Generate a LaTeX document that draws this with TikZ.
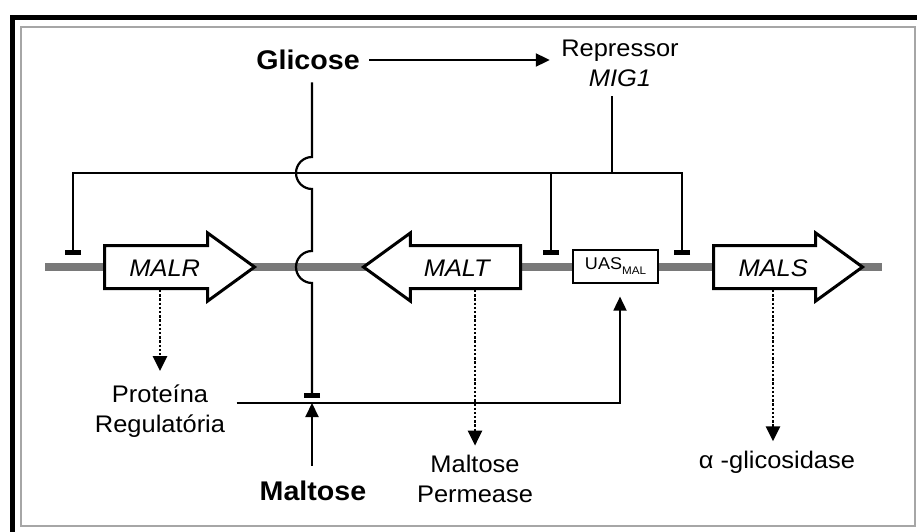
\documentclass[tikz,border=0pt]{standalone}
\usepackage{fontspec}
\setmainfont{Liberation Sans}[FakeStretch=1.06]
\usepackage{tikz}
\usetikzlibrary{positioning, calc, arrows.meta, shapes.arrows}

\begin{document}
\begin{tikzpicture}[
    x=1pt, y=-1pt,
    gene/.style={single arrow, draw, fill=white, line width=3pt,
                 single arrow tip angle=72, single arrow head extend=12.5pt,
                 single arrow head indent=0pt, minimum width=0pt,
                 text height=18pt, text depth=0pt, inner ysep=11pt, inner xsep=4pt,
                 font=\fontsize{24}{30}\selectfont\itshape},
    prod/.style={align=center, font=\fontsize{24}{30}\selectfont},
    sugar/.style={font=\fontsize{27}{32}\selectfont\bfseries},
    expr/.style={-{Triangle[length=15pt,width=14pt]}, line width=2.6pt,
                 dash pattern=on 2.4pt off 1.8pt},
    act/.style={-{Triangle[length=14pt,width=13pt]}, line width=2.1pt},
    inh/.style={-{Bar[width=16pt,line width=5pt]}, line width=2.2pt},
    chrom/.style={line width=7.5pt, gray!95!black},
]
\useasboundingbox (0,0) rectangle (917,532);
\fill[white] (0,0) rectangle (917,532);

% Frame
\draw[line width=5pt] (12.5,532) -- (12.5,17.5) -- (917,17.5);
\draw[gray!70, line width=1.5pt] (21,27) rectangle (915,526);

% Chromosome and genes
\coordinate (chrL) at (45,267);
\coordinate (chrR) at (882,267);
\draw[chrom] (chrL) -- (chrR);

\node[gene, anchor=tail, minimum height=150pt] (malr) at (103,267) {MALR};
\node[gene, anchor=tail, minimum height=157pt, shape border rotate=180] (malt) at (522,267) {MALT};
\node[gene, anchor=tail, minimum height=149pt] (mals) at (712,267) {MALS};
\node[draw, fill=white, line width=1.2pt, minimum width=85pt, minimum height=33pt,
      inner sep=0pt] (uas) at (615.5,266.5)
      {\fontsize{17}{17}\selectfont UAS\raisebox{-5pt}{\fontsize{11}{11}\selectfont MAL}};

% Signals and products
\node[sugar] (glicose) at (308,60) {Glicose};
\node[sugar] (maltose) at (313,491) {Maltose};
\node[prod] (repressor) at (620,63.5) {Repressor\\\textit{MIG1}};
\node[prod] (prot) at (160,411) {Proteína\\Regulatória};
\node[prod] (perm) at (475,479) {Maltose\\Permease};
\node[prod] (gluc) at (777,462) {α -glicosidase};

% Glucose repression
\draw[act, shorten <=6pt, shorten >=8pt] (glicose.east) -- (glicose.east -| repressor.west);
\coordinate (mig) at (612,173);
\coordinate (tL) at (73,255);
\coordinate (tM) at (551,255);
\coordinate (tR) at (682,255);
\draw[line width=2.2pt, shorten <=6pt] ([xshift=-8pt]repressor.south) -- (mig);
\draw[inh] (mig) -| (tL);
\draw[inh] (mig) -| (tM);
\draw[inh] (mig) -| (tR);

% Glucose blocks maltose induction
\coordinate (hopA) at (312,173);
\coordinate (hopB) at (312,267);
\coordinate (glcbar) at (312,398);
\draw[inh, shorten <=9pt] (glicose.south -| glcbar) -- ([yshift=16pt]hopA)
    arc[start angle=90, end angle=270, radius=16pt] -- ([yshift=16pt]hopB)
    arc[start angle=90, end angle=270, radius=16pt] -- (glcbar);

% Maltose induction
\coordinate (mjoin) at (312,403);
\draw[act, shorten <=12pt] (maltose.north -| mjoin) -- (mjoin);
\draw[act, line width=1.8pt, shorten <=8pt, shorten >=13pt]
    (prot.east |- mjoin) -| ([xshift=4.5pt]uas.south);

% Expression
\draw[expr, shorten >=10pt] (prot |- malr.south) -- (prot);
\draw[expr, shorten >=6pt] (perm |- malt.south) -- (perm);
\draw[expr, shorten >=6pt] ([xshift=-4pt]gluc.north |- mals.south) -- ([xshift=-4pt]gluc.north);
\end{tikzpicture}
\end{document}
